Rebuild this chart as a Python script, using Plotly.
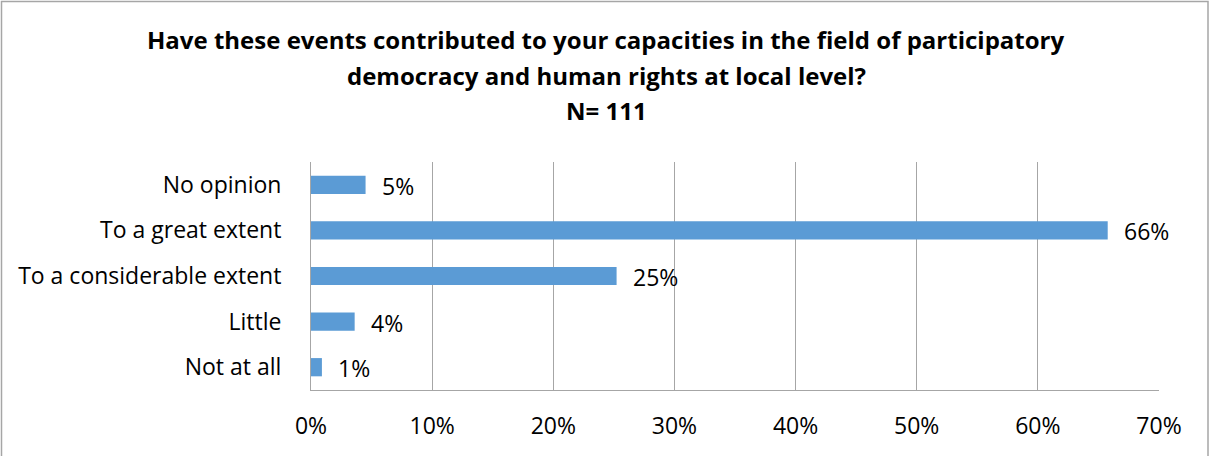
import plotly.graph_objects as go

# Survey responses (N = 111), listed bottom-to-top as drawn
categories = ["Not at all", "Little", "To a considerable extent", "To a great extent", "No opinion"]
counts = [1, 4, 28, 73, 5]
total = 111
percent = [c / total * 100 for c in counts]

tick_vals = [0, 10, 20, 30, 40, 50, 60, 70]
tick_text = ["0%", "10%", "20%", "30%", "40%", "50%", "60%", "70%"]

title_lines = [
    "Have these events contributed to your capacities in the field of participatory",
    "democracy and human rights at local level?",
    "N= 111",
]

FONT = "Open Sans"
BAR_COLOR = "#5B9BD5"
GRID = "#A6A6A6"
TXT = 23

W, H = 1212, 456
L, R, T, B = 311, 53, 162, 66
pw, ph = W - L - R, H - T - B

fig = go.Figure(
    go.Bar(
        x=percent,
        y=categories,
        orientation="h",
        marker=dict(color=BAR_COLOR, line=dict(width=0)),
        width=0.4,
        hoverinfo="skip",
    )
)

# value labels just right of each bar end
for cat, val in zip(categories, percent):
    fig.add_annotation(
        x=val, y=cat, xref="x", yref="y",
        text=f"{val:.0f}%", showarrow=False,
        xanchor="left", yanchor="middle", xshift=14, yshift=-1,
        font=dict(family=FONT, size=TXT, color="#000000"),
    )

# three-line bold title
for i, line in enumerate(title_lines):
    fig.add_annotation(
        x=(606 - L) / pw, y=(H - B - (40 + 35 * i)) / ph,
        xref="paper", yref="paper",
        text=f"<b>{line}</b>", showarrow=False,
        xanchor="center", yanchor="middle",
        font=dict(family=FONT, size=24, color="#000000"),
    )

# outer chart border
fig.add_shape(
    type="rect", xref="paper", yref="paper",
    x0=(1.5 - L) / pw, x1=(1208 - L) / pw,
    y0=(H - B - 470) / ph, y1=(H - B - 1.5) / ph,
    line=dict(color="#A6A6A6", width=1.5), fillcolor="rgba(0,0,0,0)", layer="below",
)

fig.update_layout(
    width=W, height=H,
    margin=dict(l=L, r=R, t=T, b=B, pad=0),
    paper_bgcolor="#FFFFFF", plot_bgcolor="#FFFFFF",
    showlegend=False,
    font=dict(family=FONT, size=TXT, color="#000000"),
    xaxis=dict(
        range=[0, 70], tickvals=tick_vals, ticktext=tick_text,
        showgrid=True, gridcolor=GRID, gridwidth=1,
        zeroline=False, showline=True, linecolor=GRID, linewidth=1, mirror=False,
        ticks="", ticklabelstandoff=15,
        tickfont=dict(family=FONT, size=TXT, color="#000000"),
        fixedrange=True,
    ),
    yaxis=dict(
        categoryorder="array", categoryarray=categories,
        showgrid=False, zeroline=False,
        showline=True, linecolor=GRID, linewidth=1,
        ticks="", ticklabelstandoff=24,
        tickfont=dict(family=FONT, size=TXT, color="#000000"),
        fixedrange=True,
    ),
)

fig.write_html("out.html")
